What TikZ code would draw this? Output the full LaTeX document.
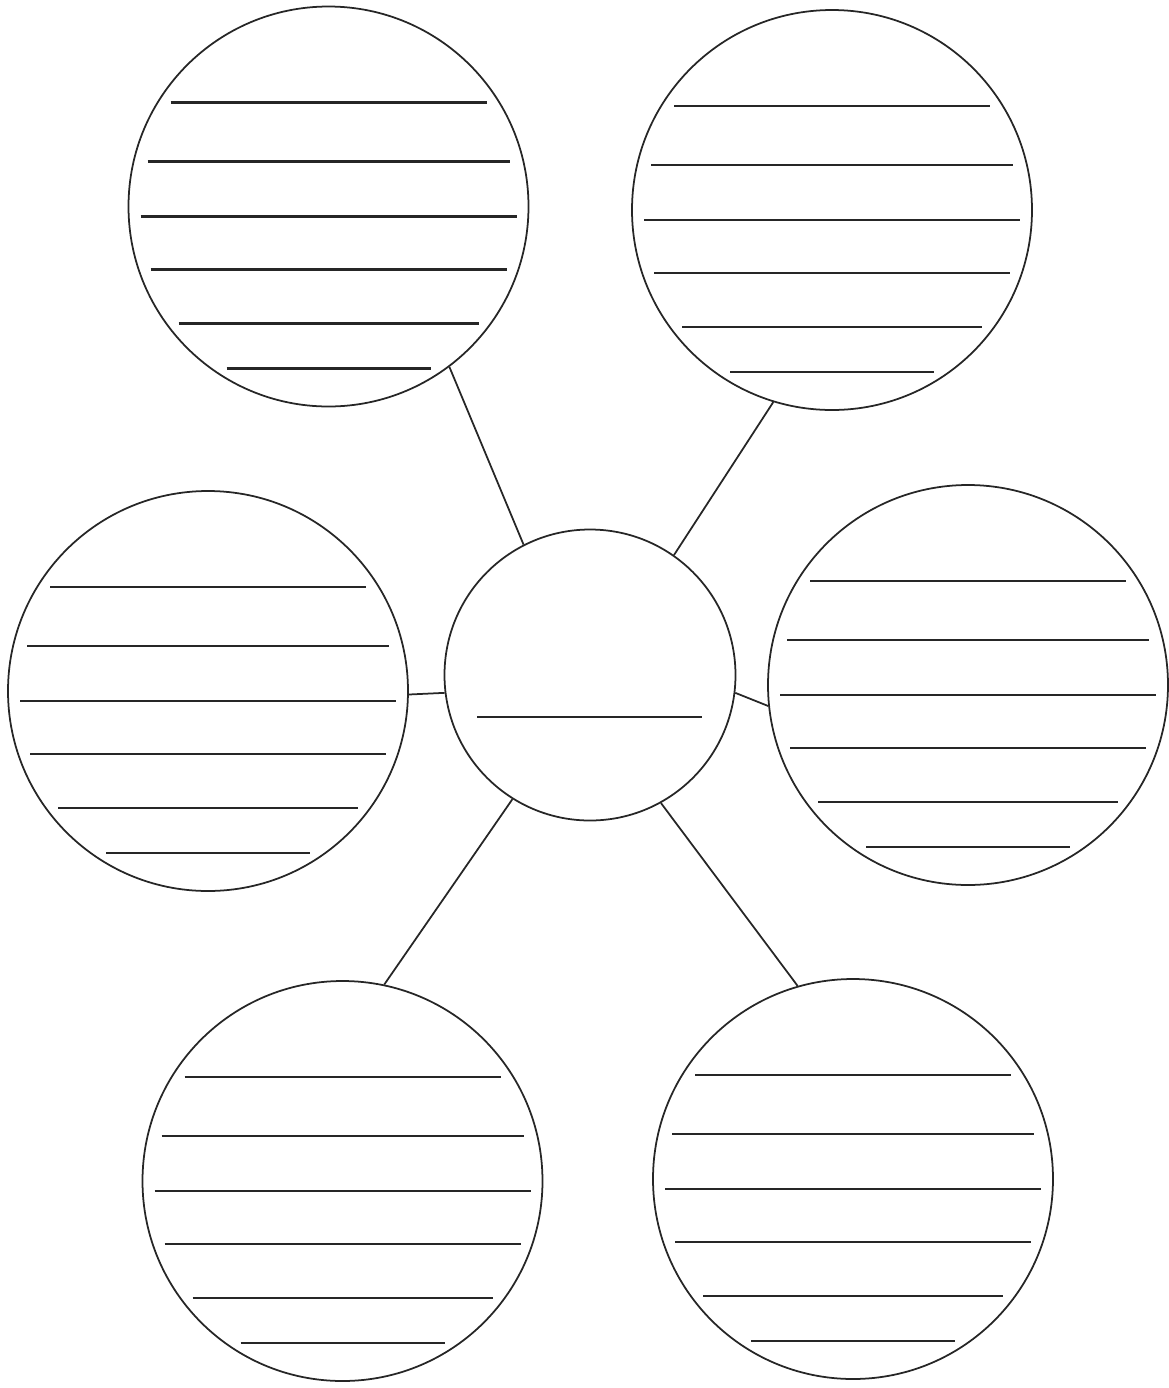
\documentclass[tikz,border=0pt]{standalone}
\usepackage{tikz}

\begin{document}
\begin{tikzpicture}[
  bubble/.style={draw=black!85, line width=1pt, circle, inner sep=0pt, minimum size=8cm},
  hub/.style={draw=black!85, line width=1pt, circle, inner sep=0pt, minimum size=5.82cm},
  writeline/.style={black!85, line width=1.3pt},
  spoke/.style={black!85, line width=1pt}]
% Fix the page size
\useasboundingbox (0,0) rectangle (23.38,-27.76);

% Define nodes for the circles
\node[hub] (C) at (11.8,-13.5) {};
\node[bubble] (TL) at (6.57,-4.13) {};
\node[bubble] (TR) at (16.64,-4.2) {};
\node[bubble] (L) at (4.16,-13.82) {};
\node[bubble] (R) at (19.36,-13.7) {};
\node[bubble] (BL) at (6.85,-23.62) {};
\node[bubble] (BR) at (17.06,-23.58) {};

% Writing lines in the outer circles
\foreach \c in {TL,TR,L,R,BL,BR}
  \foreach \dy/\hw in {2.08/3.16, 0.9/3.62, -0.2/3.76, -1.26/3.56, -2.34/3.0, -3.24/2.04}
    \draw[writeline] ([shift={(-\hw,\dy)}]\c.center) -- ([shift={(\hw,\dy)}]\c.center);

% Writing line in the centre circle
\draw[writeline] ([shift={(-2.26,-0.84)}]C.center) -- ([shift={(2.24,-0.84)}]C.center);

% Spokes
\draw[spoke] (TL.-53) -- (C.117);
\draw[spoke] (TR.-107) -- (C.55);
\draw[spoke] (L.-1) -- (C.187);
\draw[spoke] (C.-7) -- (R.186);
\draw[spoke] (C.238) -- (BL.78);
\draw[spoke] (C.-61) -- (BR.106);
\end{tikzpicture}
\end{document}
